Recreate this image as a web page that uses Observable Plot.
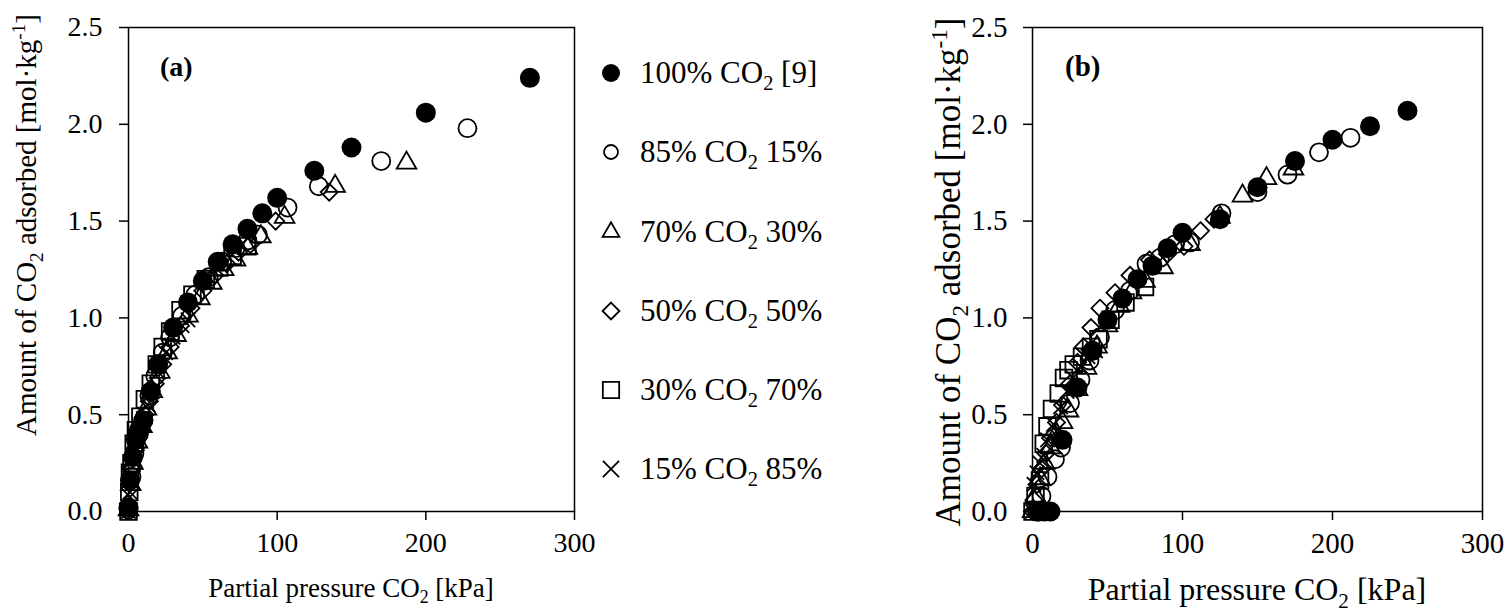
<!DOCTYPE html>
<html><head><meta charset="utf-8">
<script src="https://cdn.jsdelivr.net/npm/d3@7"></script>
<script src="https://cdn.jsdelivr.net/npm/@observablehq/plot@0.6"></script>
<style>
html,body{margin:0;padding:0;background:#fff;}
body{width:1509px;height:611px;overflow:hidden;position:relative;}
.abs{position:absolute;top:0;}
</style></head><body>
<div id="pa" class="abs" style="left:0px"></div>
<div id="leg" class="abs" style="left:590px"></div>
<div id="pb" class="abs" style="left:890px"></div>
<script>
// ---- legend texts ----
const legendHead = ["100%", "85%", "70%", "50%", "30%", "15%"];
const legendTail = ["[9]", "15%", "30%", "50%", "70%", "85%"];
const xTicks = [0, 100, 200, 300];
const yTicks = [0, 0.5, 1.0, 1.5, 2.0, 2.5];
const panelLabels = ["(a)", "(b)"];

// ---- panel (a) ----
const aX100 = [0, 1, 3, 5, 7, 10, 15, 20, 30, 40, 50, 60, 70, 80, 90, 100, 125, 150, 200, 270];
const aY100 = [0.02, 0.16, 0.28, 0.37, 0.42, 0.47, 0.62, 0.76, 0.95, 1.08, 1.19, 1.29, 1.38, 1.46, 1.54, 1.62, 1.76, 1.88, 2.06, 2.24];
const aX85 = [0, 2, 4, 7, 10, 14, 18, 23, 28, 36, 45, 54, 63, 72, 80, 87, 107, 128, 170, 228];
const aY85 = [0.01, 0.18, 0.30, 0.40, 0.47, 0.60, 0.70, 0.82, 0.90, 1.01, 1.12, 1.21, 1.29, 1.36, 1.40, 1.43, 1.57, 1.68, 1.81, 1.98];
const aX70 = [0, 1.5, 3, 6, 9, 12, 16, 21, 26, 32, 40, 48, 56, 64, 72, 80, 89, 105, 139, 187];
const aY70 = [0.01, 0.14, 0.25, 0.36, 0.44, 0.53, 0.62, 0.72, 0.82, 0.91, 1.01, 1.10, 1.18, 1.25, 1.30, 1.36, 1.42, 1.52, 1.68, 1.80];
const aX50 = [0, 1, 2.5, 5, 8, 11, 14, 18, 23, 28, 35, 42, 50, 58, 66, 74, 82, 99, 135];
const aY50 = [0.04, 0.12, 0.22, 0.33, 0.42, 0.50, 0.57, 0.66, 0.76, 0.85, 0.96, 1.05, 1.14, 1.22, 1.28, 1.34, 1.38, 1.50, 1.65];
const aX30 = [0, 0.5, 1, 2, 3.5, 5, 8, 11, 15, 19, 23, 28, 35, 43, 52, 61, 70, 80];
const aY30 = [0.0, 0.10, 0.20, 0.25, 0.35, 0.42, 0.49, 0.58, 0.66, 0.76, 0.85, 0.93, 1.04, 1.12, 1.20, 1.26, 1.32, 1.37];
const aX15 = [0, 1, 2, 4, 6, 8, 10, 13, 16, 20, 25, 30, 36, 40];
const aY15 = [0.0, 0.10, 0.18, 0.27, 0.35, 0.42, 0.48, 0.55, 0.62, 0.72, 0.82, 0.90, 0.96, 0.99];

// ---- panel (b) ----
const bX100 = [4, 8, 12, 20, 30, 40, 50, 60, 70, 80, 90, 100, 125, 150, 175, 200, 225, 250];
const bY100 = [0, 0, 0, 0.37, 0.64, 0.83, 0.99, 1.10, 1.20, 1.27, 1.36, 1.44, 1.51, 1.675, 1.81, 1.92, 1.99, 2.07];
const bX85 = [3, 6, 10, 15, 19, 25, 32, 38, 45, 55, 65, 76, 85, 95, 105, 126, 150, 170, 191, 212];
const bY85 = [0.0, 0.08, 0.18, 0.27, 0.33, 0.56, 0.68, 0.78, 0.90, 1.04, 1.14, 1.28, 1.31, 1.38, 1.39, 1.54, 1.65, 1.74, 1.855, 1.93];
const bX70 = [0, 2, 5, 8, 12, 16, 20, 24, 30, 36, 43, 50, 58, 66, 75, 87, 105, 125, 140, 156, 174];
const bY70 = [0.0, 0.08, 0.17, 0.25, 0.33, 0.40, 0.46, 0.52, 0.63, 0.74, 0.85, 0.96, 1.06, 1.13, 1.19, 1.26, 1.38, 1.52, 1.63, 1.72, 1.77];
const bX50 = [0, 1, 3, 6, 9, 12, 16, 20, 25, 30, 34, 39, 45, 55, 65, 78, 90, 101, 112, 121];
const bY50 = [0.0, 0.06, 0.14, 0.22, 0.30, 0.38, 0.46, 0.55, 0.66, 0.77, 0.85, 0.95, 1.05, 1.13, 1.22, 1.30, 1.33, 1.37, 1.45, 1.51];
const bX30 = [0, 2, 5, 7.5, 10, 13, 17.5, 21, 24, 27.5, 33, 39, 44, 52, 62, 75];
const bY30 = [0.0, 0.08, 0.16, 0.35, 0.44, 0.53, 0.61, 0.69, 0.73, 0.76, 0.80, 0.85, 0.89, 0.99, 1.08, 1.16];
const bX15 = [0, 1, 3, 5, 7.5, 10, 14, 18.7, 23, 27, 32, 37, 42];
const bY15 = [0.0, 0.14, 0.20, 0.25, 0.29, 0.37, 0.45, 0.54, 0.62, 0.69, 0.75, 0.80, 0.83];

const panelA = [[aX100, aY100], [aX85, aY85], [aX70, aY70], [aX50, aY50], [aX30, aY30], [aX15, aY15]];
const panelB = [[bX100, bY100], [bX85, bY85], [bX70, bY70], [bX50, bY50], [bX30, bY30], [bX15, bY15]];

const FONT = '"Liberation Serif","Times New Roman",serif';
const symbols = ["circle", "circle", "triangle2", "diamond2", "square2", "times"];
const fills = ["black", "none", "none", "none", "none", "none"];
const plotR = [10, 9, 9.4, 7.7, 10.6, 6.6];
const legR = [9, 7, 8, 7.6, 10.4, 7.4];

function richText(g, x, y, fs, parts, opts = {}) {
  const t = g.append("text")
    .attr("transform", `translate(${x},${y})` + (opts.rotate ? ` rotate(${opts.rotate})` : ""))
    .attr("text-anchor", opts.anchor || "middle")
    .attr("font-size", fs).attr("font-family", FONT).attr("fill", "black");
  if (opts.weight) t.attr("font-weight", opts.weight);
  let shift = 0;
  parts.forEach(([s, kind]) => {
    const sp = t.append("tspan").text(s);
    const target = kind === "sub" ? 0.24 * fs : kind === "sup" ? -0.38 * fs : 0;
    sp.attr("dy", target - shift);
    shift = target;
    if (kind) sp.attr("font-size", 0.66 * fs);
  });
  return t;
}

function makePanel(el, data, cfg) {
  const marks = [Plot.frame({stroke: "black", strokeWidth: 1.5})];
  data.forEach(([xs, ys], i) => {
    const rows = xs.map((x, j) => ({x, y: ys[j]}));
    marks.push(Plot.dot(rows, {
      x: "x", y: "y", symbol: symbols[i], r: plotR[i],
      fill: fills[i], stroke: i === 0 ? "none" : "black", strokeWidth: 1.8
    }));
  });
  marks.push(Plot.axisX({ticks: xTicks, tickSize: 9, tickPadding: cfg.xPad, label: null, tickFormat: d3.format("d"), strokeWidth: 1.5}));
  marks.push(Plot.axisY({ticks: yTicks, tickSize: 9, tickPadding: cfg.yPad, label: null, tickFormat: d3.format(".1f"), strokeWidth: 1.5}));
  const svg = Plot.plot({
    width: cfg.width, height: 611,
    marginLeft: cfg.ml, marginRight: cfg.mr, marginTop: 27, marginBottom: 100,
    x: {domain: [0, 300]},
    y: {domain: [0, 2.5]},
    style: {fontFamily: FONT, fontSize: cfg.tickFs + "px", color: "black", background: "white", overflow: "visible"},
    marks
  });
  el.appendChild(svg);
  const g = d3.select(svg);
  richText(g, cfg.ytX, cfg.ytY, cfg.ytFs,
    [["Amount of CO"], ["2", "sub"], [" adsorbed [mol\u00B7kg"], ["-1", "sup"], ["]"]], {rotate: -90});
  richText(g, cfg.xtX, cfg.xtY, cfg.xtFs,
    [["Partial pressure CO"], ["2", "sub"], [" [kPa]"]]);
  richText(g, cfg.plX, cfg.plY, cfg.plFs, [[cfg.label]], {anchor: "start", weight: "bold"});
}

makePanel(document.getElementById("pa"), panelA, {
  width: 590, ml: 128, mr: 16, xPad: 12, yPad: 17, tickFs: 28,
  ytX: 36, ytY: 225, ytFs: 29, xtX: 351, xtY: 597, xtFs: 27,
  plX: 160, plY: 76, plFs: 28, label: panelLabels[0]
});
makePanel(document.getElementById("pb"), panelB, {
  width: 619, ml: 142, mr: 27, xPad: 12, yPad: 16, tickFs: 29,
  ytX: 70, ytY: 272, ytFs: 35, xtX: 367, xtY: 600, xtFs: 32,
  plX: 175, plY: 76, plFs: 29, label: panelLabels[1]
});

// ---- legend ----
const rowY = [73, 152, 232, 311, 390, 469];
const lsvg = d3.select("#leg").append("svg").attr("width", 260).attr("height", 520);
const symMap = {triangle2: d3.symbolTriangle2, diamond2: d3.symbolDiamond2, square2: d3.symbolSquare2, times: d3.symbolTimes};
legendHead.forEach((h, i) => {
  if (symbols[i] === "circle") {
    lsvg.append("circle").attr("cx", 21).attr("cy", rowY[i]).attr("r", legR[i])
      .attr("fill", fills[i]).attr("stroke", i === 0 ? "none" : "black").attr("stroke-width", 1.8);
  } else {
    lsvg.append("path").attr("transform", `translate(21,${rowY[i]})`)
      .attr("d", d3.symbol(symMap[symbols[i]], Math.PI * legR[i] * legR[i])())
      .attr("fill", "none").attr("stroke", "black").attr("stroke-width", 1.8);
  }
  richText(lsvg, 50, rowY[i] + 10, 31, [[h + " CO"], ["2", "sub"], [" " + legendTail[i]]], {anchor: "start"});
});
</script>
</body></html>
